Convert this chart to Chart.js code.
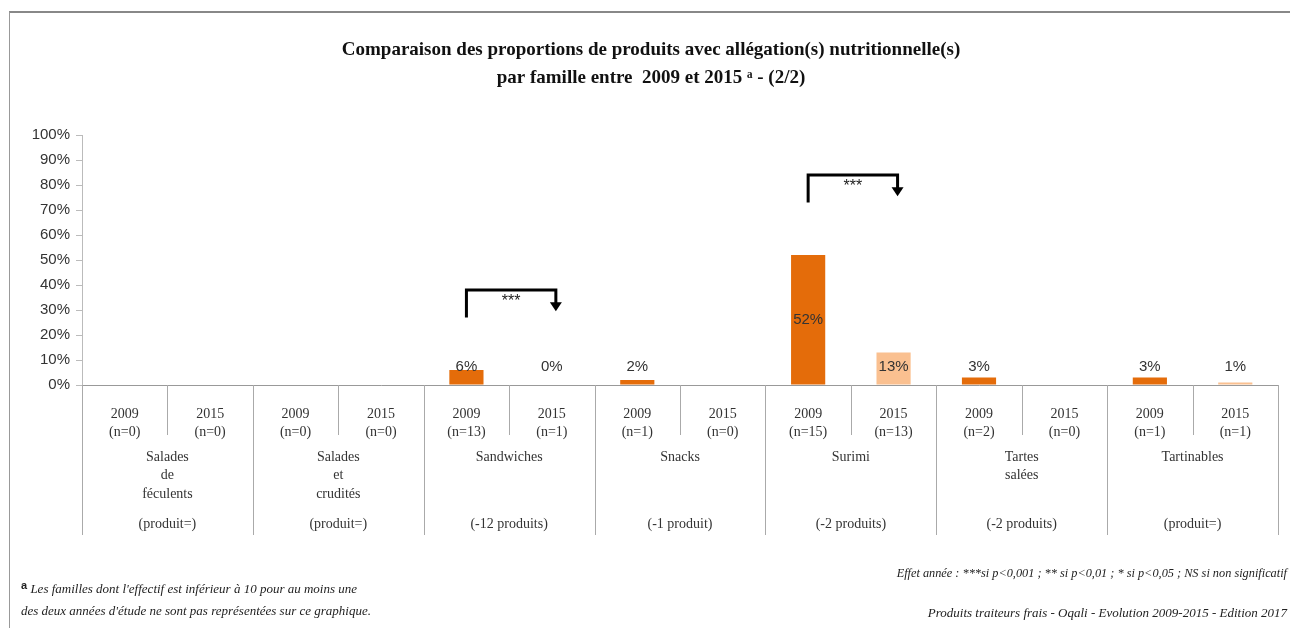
<!DOCTYPE html>
<html>
<head>
<meta charset="utf-8">
<script src="https://cdn.jsdelivr.net/npm/chart.js@4"></script>
<style>
body { margin: 0; background: #fff; }
#wrap { position: relative; width: 1290px; height: 628px; overflow: hidden; }
#frame { position: absolute; left: 9px; top: 11px; width: 1300px; height: 640px; border-left: 1px solid #999; border-top: 2px solid #888; }
#chartBox { position: absolute; left: 0; top: 0; width: 1290px; height: 628px; }
.note { position: absolute; font-family: "Liberation Serif", serif; font-style: italic; font-size: 13px; color: #222; white-space: nowrap; line-height: 16px; }
</style>
</head>
<body>
<div id="wrap">
  <div id="frame"></div>
  <div id="chartBox"><canvas id="graph"></canvas></div>
  <div class="note" style="left:21px;top:577px;"><b style="font-style:normal;font-family:'Liberation Sans',sans-serif;font-size:11px;vertical-align:4px;">a</b> Les familles dont l'effectif est inférieur à 10 pour au moins une</div>
  <div class="note" style="left:21px;top:603px;">des deux années d'étude ne sont pas représentées sur ce graphique.</div>
  <div class="note" style="right:3px;top:565px;font-size:12.3px;">Effet année : ***si p&lt;0,001 ; ** si p&lt;0,01 ; * si p&lt;0,05 ; NS si non significatif</div>
  <div class="note" style="right:3px;top:605px;">Produits traiteurs frais - Oqali - Evolution 2009-2015 - Edition 2017</div>
</div>
<script>
var families = [["Salades", "de", "féculents"], ["Salades", "et", "crudités"], ["Sandwiches"], ["Snacks"], ["Surimi"], ["Tartes", "salées"], ["Tartinables"]];
var changes = ["(produit=)", "(produit=)", "(-12 produits)", "(-1 produit)", "(-2 produits)", "(-2 produits)", "(produit=)"];
var years = ["2009", "2015"];
var n2009 = [0, 0, 13, 1, 15, 2, 1];
var n2015 = [0, 0, 1, 0, 13, 0, 1];
var values2009 = [null, null, 6, 2, 52, 3, 3];
var values2015 = [null, null, 0, null, 13, null, 1];
var significance = [{ family: 2, label: "***" }, { family: 4, label: "***" }];

document.addEventListener("DOMContentLoaded", function() {
    var ctx = document.getElementById("graph").getContext("2d");

    // one slot per family and year
    var labels = [], data2009 = [], data2015 = [];
    for (var k = 0; k < families.length; k++) {
        labels.push([years[0], "(n=" + n2009[k] + ")"]);
        labels.push([years[1], "(n=" + n2015[k] + ")"]);
        data2009.push(values2009[k], null);
        data2015.push(null, values2015[k]);
    }

    var serif = '"Liberation Serif", "DejaVu Serif", serif';
    var sans = '"Liberation Sans", Arial, sans-serif';

    var valueLabels = {
        id: "valueLabels",
        afterDatasetsDraw: function(chart) {
            var c = chart.ctx, zero = chart.scales.y.getPixelForValue(0);
            c.save();
            c.font = "15px " + sans;
            c.fillStyle = "#333";
            c.textAlign = "center";
            c.textBaseline = "middle";
            chart.data.datasets.forEach(function(ds, di) {
                chart.getDatasetMeta(di).data.forEach(function(bar, i) {
                    if (ds.data[i] === null) return;
                    var y = Math.min((bar.y + zero) / 2, zero - 18);
                    c.fillText(ds.data[i] + "%", bar.x, y);
                });
            });
            c.restore();
        }
    };

    var brackets = {
        id: "brackets",
        afterDatasetsDraw: function(chart) {
            var c = chart.ctx, x = chart.scales.x, y = chart.scales.y;
            c.save();
            c.lineWidth = 3;
            significance.forEach(function(s) {
                var top = Math.max(values2009[s.family] || 0, values2015[s.family] || 0);
                var x1 = x.getPixelForValue(2 * s.family);
                var x2 = x.getPixelForValue(2 * s.family + 1) + 4;
                var yLow = y.getPixelForValue(top + 21);
                var yTop = y.getPixelForValue(top + 32);
                var yTip = y.getPixelForValue(top + 23.5);
                c.strokeStyle = "#000";
                c.fillStyle = "#000";
                c.beginPath();
                c.moveTo(x1, yLow);
                c.lineTo(x1, yTop);
                c.lineTo(x2, yTop);
                c.lineTo(x2, yTip - 8);
                c.stroke();
                c.beginPath();
                c.moveTo(x2 - 6, yTip - 9);
                c.lineTo(x2 + 6, yTip - 9);
                c.lineTo(x2, yTip);
                c.closePath();
                c.fill();
                c.font = "16px " + sans;
                c.fillStyle = "#222";
                c.textAlign = "center";
                c.textBaseline = "middle";
                c.fillText(s.label, (x1 + x2) / 2, yTop + 12);
            });
            c.restore();
        }
    };

    var familyTable = {
        id: "familyTable",
        afterDraw: function(chart) {
            var c = chart.ctx, x = chart.scales.x, top = x.top;
            var half = (x.getPixelForValue(1) - x.getPixelForValue(0)) / 2;
            c.save();
            c.strokeStyle = "#aaa";
            c.lineWidth = 1;
            for (var i = 0; i <= labels.length; i++) {
                var bx = i < labels.length ? x.getPixelForValue(i) - half : x.getPixelForValue(labels.length - 1) + half;
                bx = Math.round(bx) + 0.5;
                c.beginPath();
                c.moveTo(bx, top);
                c.lineTo(bx, top + (i % 2 === 0 ? 150 : 50));
                c.stroke();
            }
            c.font = "14px " + serif;
            c.fillStyle = "#333";
            c.textAlign = "center";
            c.textBaseline = "middle";
            families.forEach(function(lines, k) {
                var cx = x.getPixelForValue(2 * k) + half;
                lines.forEach(function(t, j) {
                    c.fillText(t, cx, top + 72 + j * 18.5);
                });
                c.fillText(changes[k], cx, top + 139);
            });
            c.restore();
        }
    };

    new Chart(ctx, {
        type: "bar",
        data: {
            labels: labels,
            datasets: [{
                label: years[0],
                data: data2009,
                backgroundColor: "#E46C0A",
                grouped: false,
                barPercentage: 0.4,
                categoryPercentage: 1
            }, {
                label: years[1],
                data: data2015,
                backgroundColor: "#FAC090",
                grouped: false,
                barPercentage: 0.4,
                categoryPercentage: 1
            }]
        },
        options: {
            responsive: true,
            maintainAspectRatio: false,
            animation: false,
            layout: { padding: { left: 24, right: 12, top: 0, bottom: 93 } },
            plugins: {
                legend: { display: false },
                tooltip: { enabled: false },
                title: {
                    display: true,
                    text: ["Comparaison des proportions de produits avec allégation(s) nutritionnelle(s)", "par famille entre  2009 et 2015 ᵃ - (2/2)"],
                    font: { family: serif, size: 19, weight: "bold", lineHeight: 28 / 19 },
                    color: "#111",
                    padding: { top: 36, bottom: 43 }
                }
            },
            scales: {
                x: {
                    afterFit: function(s) { s.height = 150; },
                    grid: { display: false },
                    border: { color: "#999" },
                    ticks: {
                        autoSkip: false,
                        maxRotation: 0,
                        padding: 12,
                        color: "#333",
                        font: { family: serif, size: 14, lineHeight: 18 / 14 }
                    }
                },
                y: {
                    min: 0,
                    max: 100,
                    afterFit: function(s) { s.width = 58; },
                    grid: { drawOnChartArea: false, drawTicks: true, tickLength: 6, color: "#bbb" },
                    border: { color: "#bbb" },
                    ticks: {
                        stepSize: 10,
                        padding: 6,
                        color: "#333",
                        font: { family: sans, size: 15 },
                        callback: function(v) { return v + "%"; }
                    }
                }
            }
        },
        plugins: [valueLabels, brackets, familyTable]
    });
});
</script>
</body>
</html>
